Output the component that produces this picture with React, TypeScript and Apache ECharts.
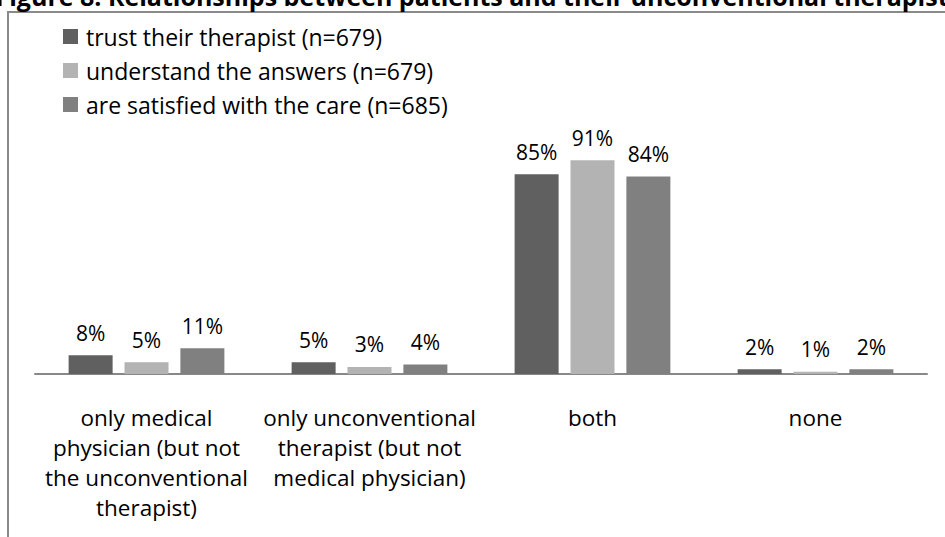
import React, { useEffect, useRef } from "react";
import * as echarts from "echarts";

const titleText = "Figure 8: Relationships between patients and their unconventional therapist";
const categories = [
  "only medical\nphysician (but not\nthe unconventional\ntherapist)",
  "only unconventional\ntherapist (but not\nmedical physician)",
  "both",
  "none",
];
const seriesNames = [
  "trust their therapist (n=679)",
  "understand the answers (n=679)",
  "are satisfied with the care (n=685)",
];
const trustValues = [8, 5, 85, 2];
const understandValues = [5, 3, 91, 1];
const satisfiedValues = [11, 4, 84, 2];
const colors = ["#606060", "#b3b3b3", "#808080"];

const FONT = '"Open Sans", sans-serif';

export default function App() {
  const ref = useRef<HTMLDivElement>(null);
  useEffect(() => {
    if (!ref.current) return;
    const chart = echarts.init(ref.current, null, { renderer: "svg" });
    const allValues = [trustValues, understandValues, satisfiedValues];
    chart.setOption({
      animation: false,
      color: colors,
      textStyle: { fontFamily: FONT },
      graphic: [
        {
          type: "rect",
          z: -1,
          shape: { x: 8, y: 12, width: 1000, height: 600 },
          style: { fill: "none", stroke: "#8a8a8a", lineWidth: 2 },
        },
        {
          type: "text",
          x: 472,
          y: -4,
          style: {
            text: titleText,
            font: 'bold 25px "Open Sans", sans-serif',
            align: "center",
            verticalAlign: "middle",
            fill: "#000",
          },
        },
      ],
      legend: {
        orient: "vertical",
        left: 58,
        top: 20,
        itemWidth: 15,
        itemHeight: 15,
        itemGap: 11,
        icon: "rect",
        data: seriesNames,
        textStyle: { fontSize: 23, color: "#000", fontFamily: FONT, padding: [0, 0, 0, 3] },
      },
      grid: { left: 35, right: 18, top: 139, bottom: 163 },
      xAxis: {
        type: "category",
        data: categories,
        axisLine: { lineStyle: { color: "#888", width: 2 } },
        axisTick: { show: false },
        axisLabel: {
          interval: 0,
          fontSize: 22.5,
          lineHeight: 30,
          margin: 28,
          color: "#000",
          fontFamily: FONT,
        },
      },
      yAxis: { type: "value", min: 0, max: 100, show: false, splitLine: { show: false } },
      series: seriesNames.map((name, i) => ({
        name,
        type: "bar",
        data: allValues[i],
        barWidth: 44,
        barGap: "27%",
        itemStyle: { color: colors[i] },
        label: {
          show: true,
          position: "top",
          distance: 12,
          formatter: "{c}%",
          fontSize: 21,
          color: "#000",
          fontFamily: FONT,
        },
      })),
    });
    return () => chart.dispose();
  }, []);
  return (
    <div
      ref={ref}
      style={{ position: "absolute", left: 0, top: 0, width: 945, height: 537, overflow: "hidden", background: "#fff" }}
    />
  );
}
